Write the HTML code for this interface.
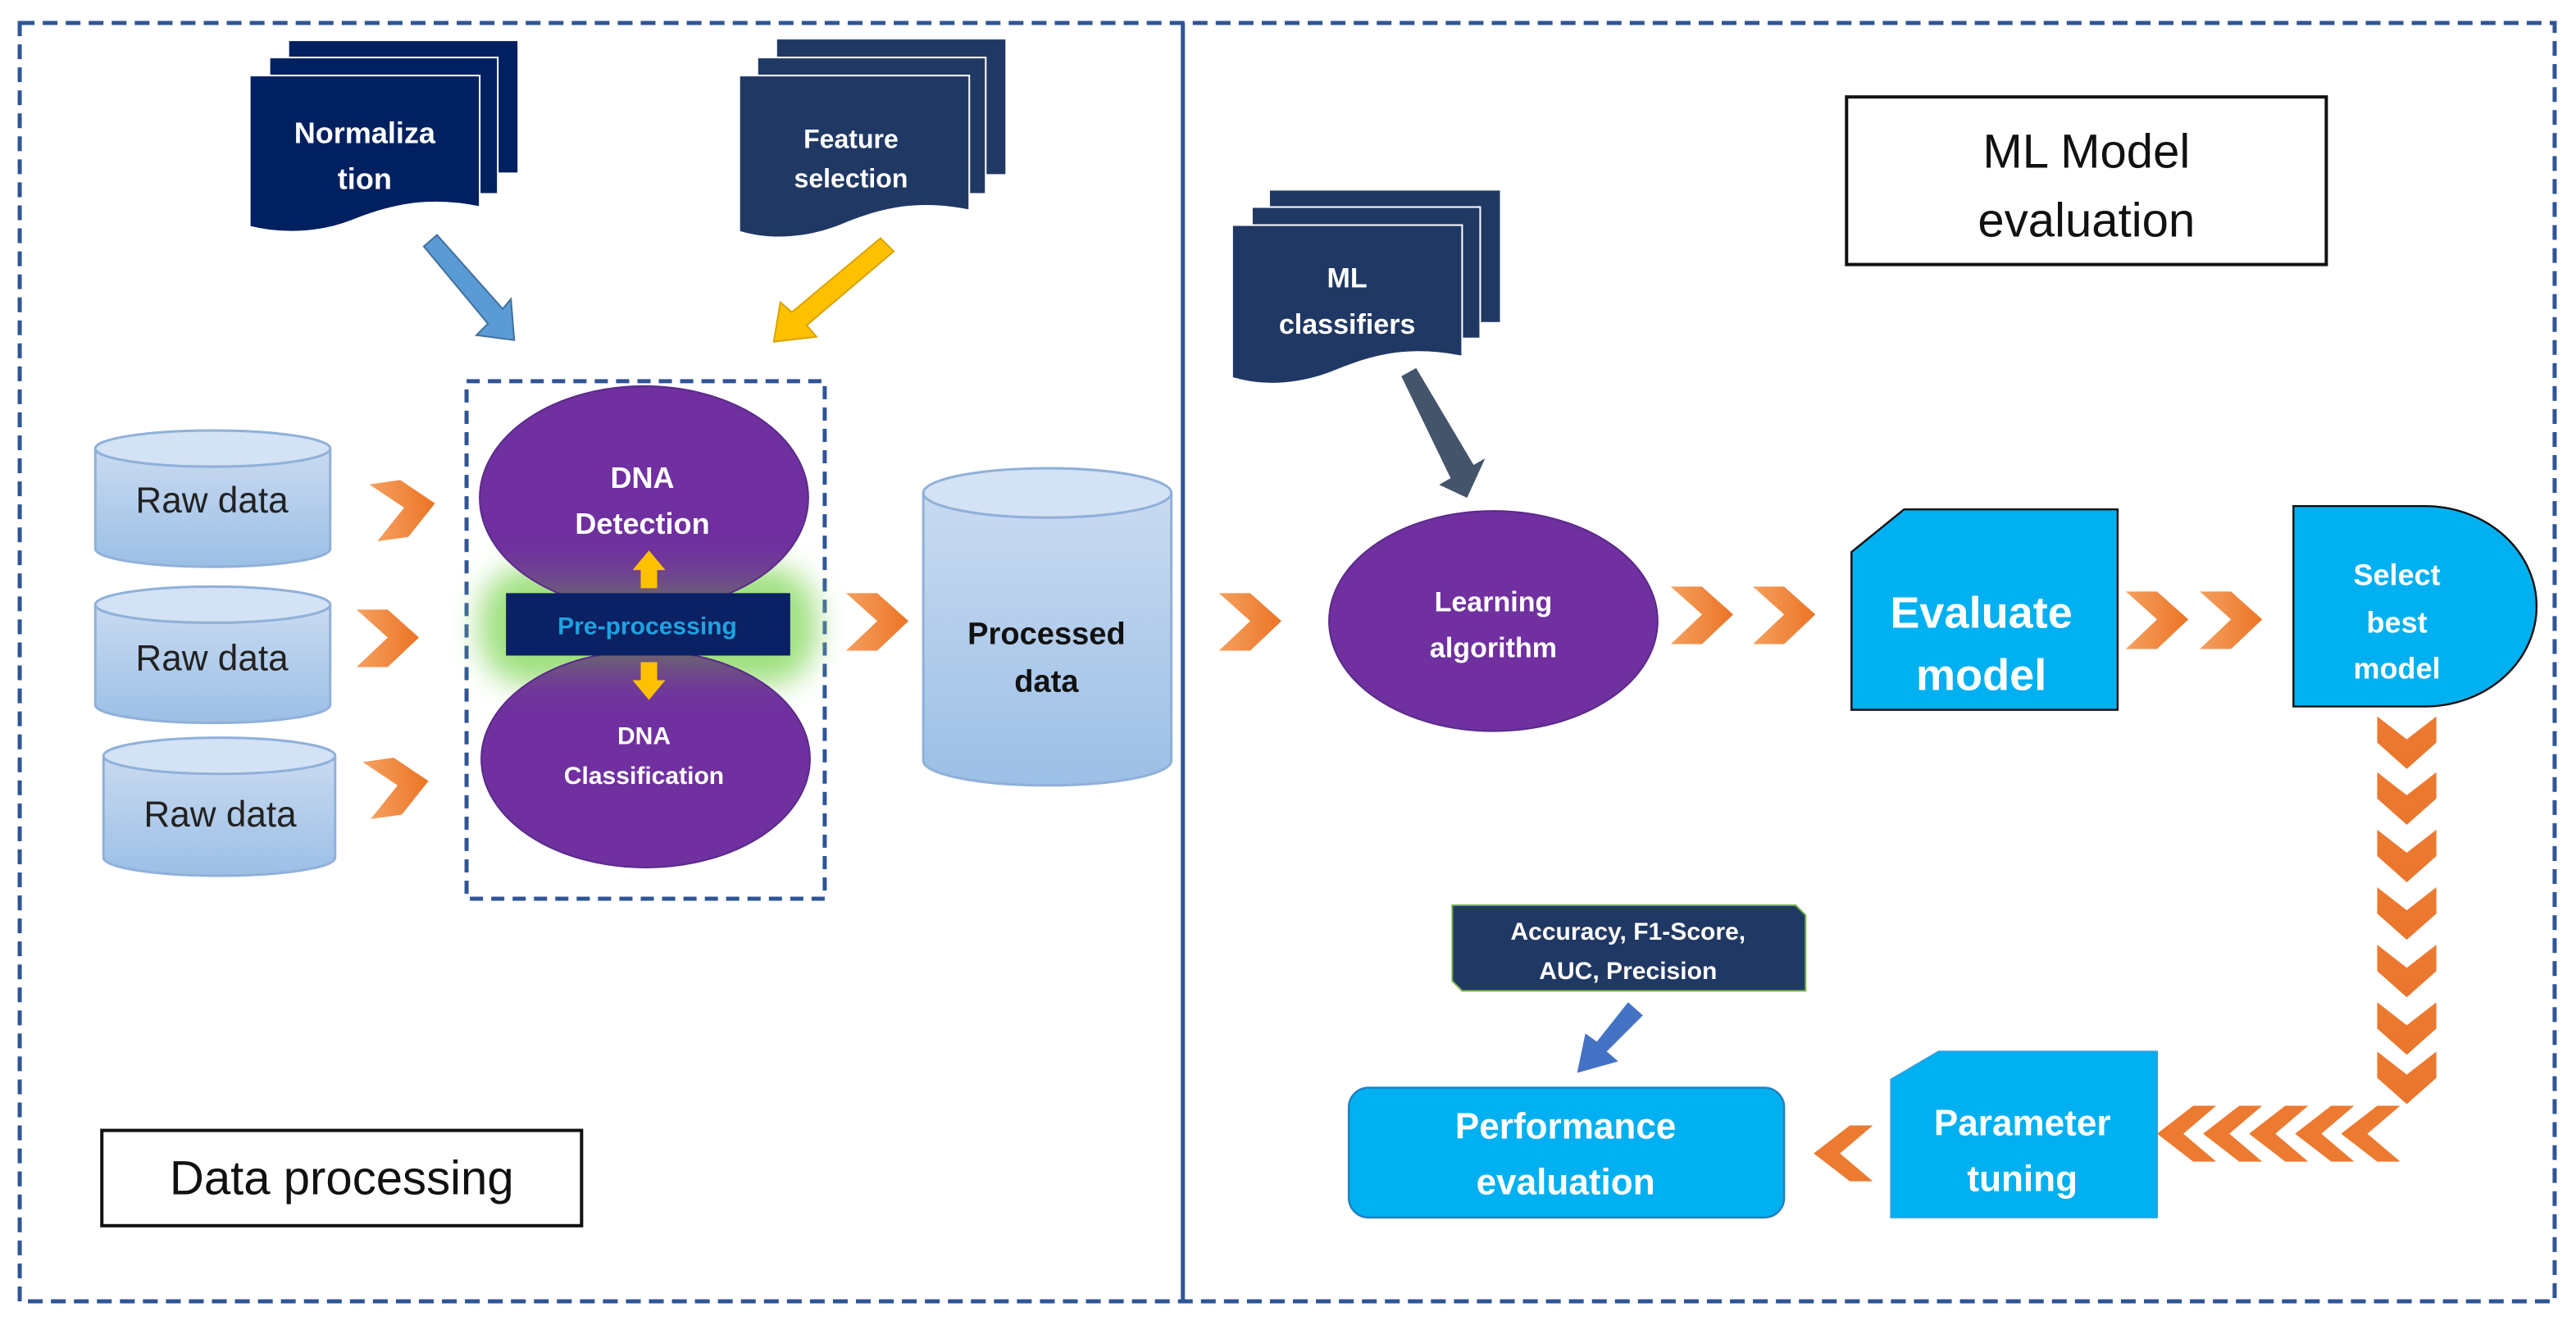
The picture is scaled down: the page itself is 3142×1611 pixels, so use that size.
<!DOCTYPE html>
<html><head><meta charset="utf-8"><style>
html,body{margin:0;padding:0;background:#fff;}
svg{display:block;}
text{font-family:"Liberation Sans",sans-serif;}
</style></head><body>
<svg width="3142" height="1611" viewBox="0 0 1568 804" preserveAspectRatio="none" xmlns="http://www.w3.org/2000/svg">
<defs>
<linearGradient id="cyl" x1="0" y1="0" x2="0" y2="1"><stop offset="0" stop-color="#c9daf0"/><stop offset="1" stop-color="#9bbfe6"/></linearGradient>
<linearGradient id="org" x1="0" y1="0" x2="1" y2="0"><stop offset="0" stop-color="#f4a060"/><stop offset="1" stop-color="#ec7424"/></linearGradient>
<linearGradient id="orgv" x1="0" y1="0" x2="0" y2="1"><stop offset="0" stop-color="#ec7a30"/><stop offset="1" stop-color="#e9762c"/></linearGradient>
<filter id="blur" x="-30%" y="-60%" width="160%" height="220%"><feGaussianBlur stdDeviation="9"/></filter>
<linearGradient id="grayfade" x1="0" y1="0" x2="0" y2="1"><stop offset="0" stop-color="#7030a0" stop-opacity="0"/><stop offset="1" stop-color="#6b6b6b" stop-opacity="0.9"/></linearGradient>
<linearGradient id="grayfade2" x1="0" y1="1" x2="0" y2="0"><stop offset="0" stop-color="#7030a0" stop-opacity="0"/><stop offset="1" stop-color="#6b6b6b" stop-opacity="0.9"/></linearGradient>
<clipPath id="ellc"><ellipse cx="392" cy="303" rx="100" ry="68"/><ellipse cx="393" cy="462" rx="100" ry="66"/></clipPath>
<path id="chev" d="M0,0 H19 L38,17 L19,35 H0 L19,17 Z"/>
<path id="chevd" d="M0,0 L18,14 L36,0 V16 L18,32 L0,16 Z"/>
<path id="chevl" d="M36,0 H22 L0,17 L22,34 H36 L16,17 Z"/>
</defs>

<rect x="12" y="14" width="1543" height="778" fill="none" stroke="#2f5597" stroke-width="2.5" stroke-dasharray="9,5"/>
<line x1="720" y1="14" x2="720" y2="792" stroke="#2f5597" stroke-width="2.5"/>

<g fill="#002060">
<path d="M176,25 H315 V105 H176 Z"/>
<path d="M164,35 H303 V118 H164 Z" stroke="#fff" stroke-width="1"/>
<path d="M152,46 H292 V126 C262,120 240,124 215,134 C195,142 172,143 152,138 Z" stroke="#fff" stroke-width="1"/>
</g>
<text x="222" y="87" font-size="18" font-weight="bold" fill="#fff" text-anchor="middle">Normaliza</text>
<text x="222" y="115" font-size="18" font-weight="bold" fill="#fff" text-anchor="middle">tion</text>

<g fill="#203864">
<path d="M473,24 H612 V106 H473 Z"/>
<path d="M461,35 H600 V118 H461 Z" stroke="#fff" stroke-width="1"/>
<path d="M450,46 H590 V128 C560,122 538,126 512,137 C492,145 470,147 450,141 Z" stroke="#fff" stroke-width="1"/>
</g>
<text x="518" y="90" font-size="16" font-weight="bold" fill="#fff" text-anchor="middle">Feature</text>
<text x="518" y="114" font-size="16" font-weight="bold" fill="#fff" text-anchor="middle">selection</text>

<path d="M258,150 L266,143 L306,188 L311,182 L313,207 L290,204 L297,197 Z" fill="#5b9bd5" stroke="#41719c" stroke-width="1"/>
<path d="M536,145 L544,153 L491,198 L497,205 L471,208 L475,184 L482,190 Z" fill="#ffc000" stroke="#d9a300" stroke-width="1"/>

<g stroke="#8fb0d9" stroke-width="1.5" fill="url(#cyl)">
<path d="M58,273 V334 A71.5,11 0 0 0 201,334 V273"/>
<ellipse cx="129.5" cy="273" rx="71.5" ry="11" fill="#d3e2f4"/>
<path d="M58,368 V429 A71.5,11 0 0 0 201,429 V368"/>
<ellipse cx="129.5" cy="368" rx="71.5" ry="11" fill="#d3e2f4"/>
<path d="M63,460 V522 A70.5,11 0 0 0 204,522 V460"/>
<ellipse cx="133.5" cy="460" rx="70.5" ry="11" fill="#d3e2f4"/>
<path d="M562,300 V463 A75.5,15 0 0 0 713,463 V300"/>
<ellipse cx="637.5" cy="300" rx="75.5" ry="15" fill="#d3e2f4"/>
</g>
<g font-size="22" fill="#222" text-anchor="middle">
<text x="129" y="312">Raw data</text>
<text x="129" y="408">Raw data</text>
<text x="134" y="503">Raw data</text>
</g>
<text x="637" y="392" font-size="19" font-weight="bold" fill="#111" text-anchor="middle">Processed</text>
<text x="637" y="421" font-size="19" font-weight="bold" fill="#111" text-anchor="middle">data</text>

<g fill="url(#org)">
<use href="#chev" transform="translate(227,292) rotate(-8,19,17)"/>
<use href="#chev" transform="translate(217,371)"/>
<use href="#chev" transform="translate(223,461) rotate(-8,19,17)"/>
<use href="#chev" transform="translate(515,361)"/>
<use href="#chev" transform="translate(742,361)"/>
<use href="#chev" transform="translate(1017,357)"/>
<use href="#chev" transform="translate(1067,357)"/>
<use href="#chev" transform="translate(1294,360)"/>
<use href="#chev" transform="translate(1339,360)"/>
</g>

<rect x="284" y="232" width="218" height="315" fill="none" stroke="#2f5597" stroke-width="2.5" stroke-dasharray="8,5"/>
<rect x="292" y="345" width="205" height="72" rx="30" fill="#9fe07f" filter="url(#blur)"/>
<ellipse cx="392" cy="303" rx="100" ry="68" fill="#7030a0"/>
<ellipse cx="393" cy="462" rx="100" ry="66" fill="#7030a0"/>
<g clip-path="url(#ellc)">
<rect x="290" y="325" width="210" height="40" fill="url(#grayfade)"/>
<rect x="290" y="398" width="210" height="38" fill="url(#grayfade2)"/>
</g>
<ellipse cx="392" cy="303" rx="100" ry="68" fill="none" stroke="#5a2a8a" stroke-width="1"/>
<ellipse cx="393" cy="462" rx="100" ry="66" fill="none" stroke="#5a2a8a" stroke-width="1"/>
<text x="391" y="297" font-size="18" font-weight="bold" fill="#fff" text-anchor="middle">DNA</text>
<text x="391" y="325" font-size="18" font-weight="bold" fill="#fff" text-anchor="middle">Detection</text>
<text x="392" y="453" font-size="15" font-weight="bold" fill="#fff" text-anchor="middle">DNA</text>
<text x="392" y="477" font-size="15" font-weight="bold" fill="#fff" text-anchor="middle">Classification</text>
<rect x="308" y="361" width="173" height="38" fill="#0a2163"/>
<text x="394" y="386" font-size="15" font-weight="bold" fill="#1fa3e0" text-anchor="middle">Pre-processing</text>
<path d="M395,335 L405,347 H400 V358 H390 V347 H385 Z" fill="#ffc000"/>
<path d="M390,403 H400 V414 H405 L395,426 L385,414 H390 Z" fill="#ffc000"/>

<rect x="62" y="688" width="292" height="58" fill="#fff" stroke="#111" stroke-width="2"/>
<text x="208" y="727" font-size="29" fill="#111" text-anchor="middle">Data processing</text>

<rect x="1124" y="59" width="292" height="102" fill="#fff" stroke="#111" stroke-width="2"/>
<text x="1270" y="102" font-size="29" fill="#111" text-anchor="middle">ML Model</text>
<text x="1270" y="144" font-size="29" fill="#111" text-anchor="middle">evaluation</text>

<g fill="#203864">
<path d="M773,116 H913 V196 H773 Z"/>
<path d="M762,126 H901 V206 H762 Z" stroke="#fff" stroke-width="1"/>
<path d="M750,137 H890 V217 C860,211 838,215 812,226 C792,234 770,236 750,230 Z" stroke="#fff" stroke-width="1"/>
</g>
<text x="820" y="175" font-size="17" font-weight="bold" fill="#fff" text-anchor="middle">ML</text>
<text x="820" y="203" font-size="17" font-weight="bold" fill="#fff" text-anchor="middle">classifiers</text>
<path d="M853,229 L862,224 L897,283 L904,279 L893,303 L876,295 L883,291 Z" fill="#44546a"/>

<ellipse cx="909" cy="378" rx="100" ry="67" fill="#7030a0" stroke="#5a2a8a" stroke-width="1"/>
<text x="909" y="372" font-size="17" font-weight="bold" fill="#fff" text-anchor="middle">Learning</text>
<text x="909" y="400" font-size="17" font-weight="bold" fill="#fff" text-anchor="middle">algorithm</text>

<path d="M1159,310 H1289 V432 H1127 V336 Z" fill="#00b0f0" stroke="#111" stroke-width="1.2"/>
<text x="1206" y="382" font-size="27" font-weight="bold" fill="#fff" text-anchor="middle">Evaluate</text>
<text x="1206" y="420" font-size="27" font-weight="bold" fill="#fff" text-anchor="middle">model</text>

<path d="M1396,308 H1476 A68,61 0 0 1 1476,430 H1396 Z" fill="#00b0f0" stroke="#111" stroke-width="1.2"/>
<text x="1459" y="356" font-size="18" font-weight="bold" fill="#fff" text-anchor="middle">Select</text>
<text x="1459" y="385" font-size="18" font-weight="bold" fill="#fff" text-anchor="middle">best</text>
<text x="1459" y="413" font-size="18" font-weight="bold" fill="#fff" text-anchor="middle">model</text>

<g fill="url(#orgv)">
<use href="#chevd" transform="translate(1447,436)"/>
<use href="#chevd" transform="translate(1447,470)"/>
<use href="#chevd" transform="translate(1447,505)"/>
<use href="#chevd" transform="translate(1447,540)"/>
<use href="#chevd" transform="translate(1447,575)"/>
<use href="#chevd" transform="translate(1447,610)"/>
<use href="#chevd" transform="translate(1447,640)"/>
</g>
<g fill="#ec7a30">
<use href="#chevl" transform="translate(1425,673)"/>
<use href="#chevl" transform="translate(1397,673)"/>
<use href="#chevl" transform="translate(1369,673)"/>
<use href="#chevl" transform="translate(1341,673)"/>
<use href="#chevl" transform="translate(1313,673)"/>
<use href="#chevl" transform="translate(1104,685)"/>
</g>

<path d="M1180,640 H1313 V741 H1151 V657 Z" fill="#00b0f0" stroke="#2aa0e0" stroke-width="1"/>
<text x="1231" y="691" font-size="22" font-weight="bold" fill="#fff" text-anchor="middle">Parameter</text>
<text x="1231" y="725" font-size="22" font-weight="bold" fill="#fff" text-anchor="middle">tuning</text>

<rect x="821" y="662" width="265" height="79" rx="12" fill="#00b0f0" stroke="#1f7fc0" stroke-width="1.2"/>
<text x="953" y="693" font-size="22" font-weight="bold" fill="#fff" text-anchor="middle">Performance</text>
<text x="953" y="727" font-size="22" font-weight="bold" fill="#fff" text-anchor="middle">evaluation</text>

<path d="M884,551 H1093 L1099,557 V603 H890 L884,597 Z" fill="#203864" stroke="#70ad47" stroke-width="1"/>
<text x="991" y="572" font-size="15" font-weight="bold" fill="#fff" text-anchor="middle">Accuracy, F1-Score,</text>
<text x="991" y="596" font-size="15" font-weight="bold" fill="#fff" text-anchor="middle">AUC, Precision</text>
<path d="M991,610 L1000,618 L978,640 L985,646 L960,653 L965,629 L972,634 Z" fill="#4472c4"/>
</svg>
</body></html>
